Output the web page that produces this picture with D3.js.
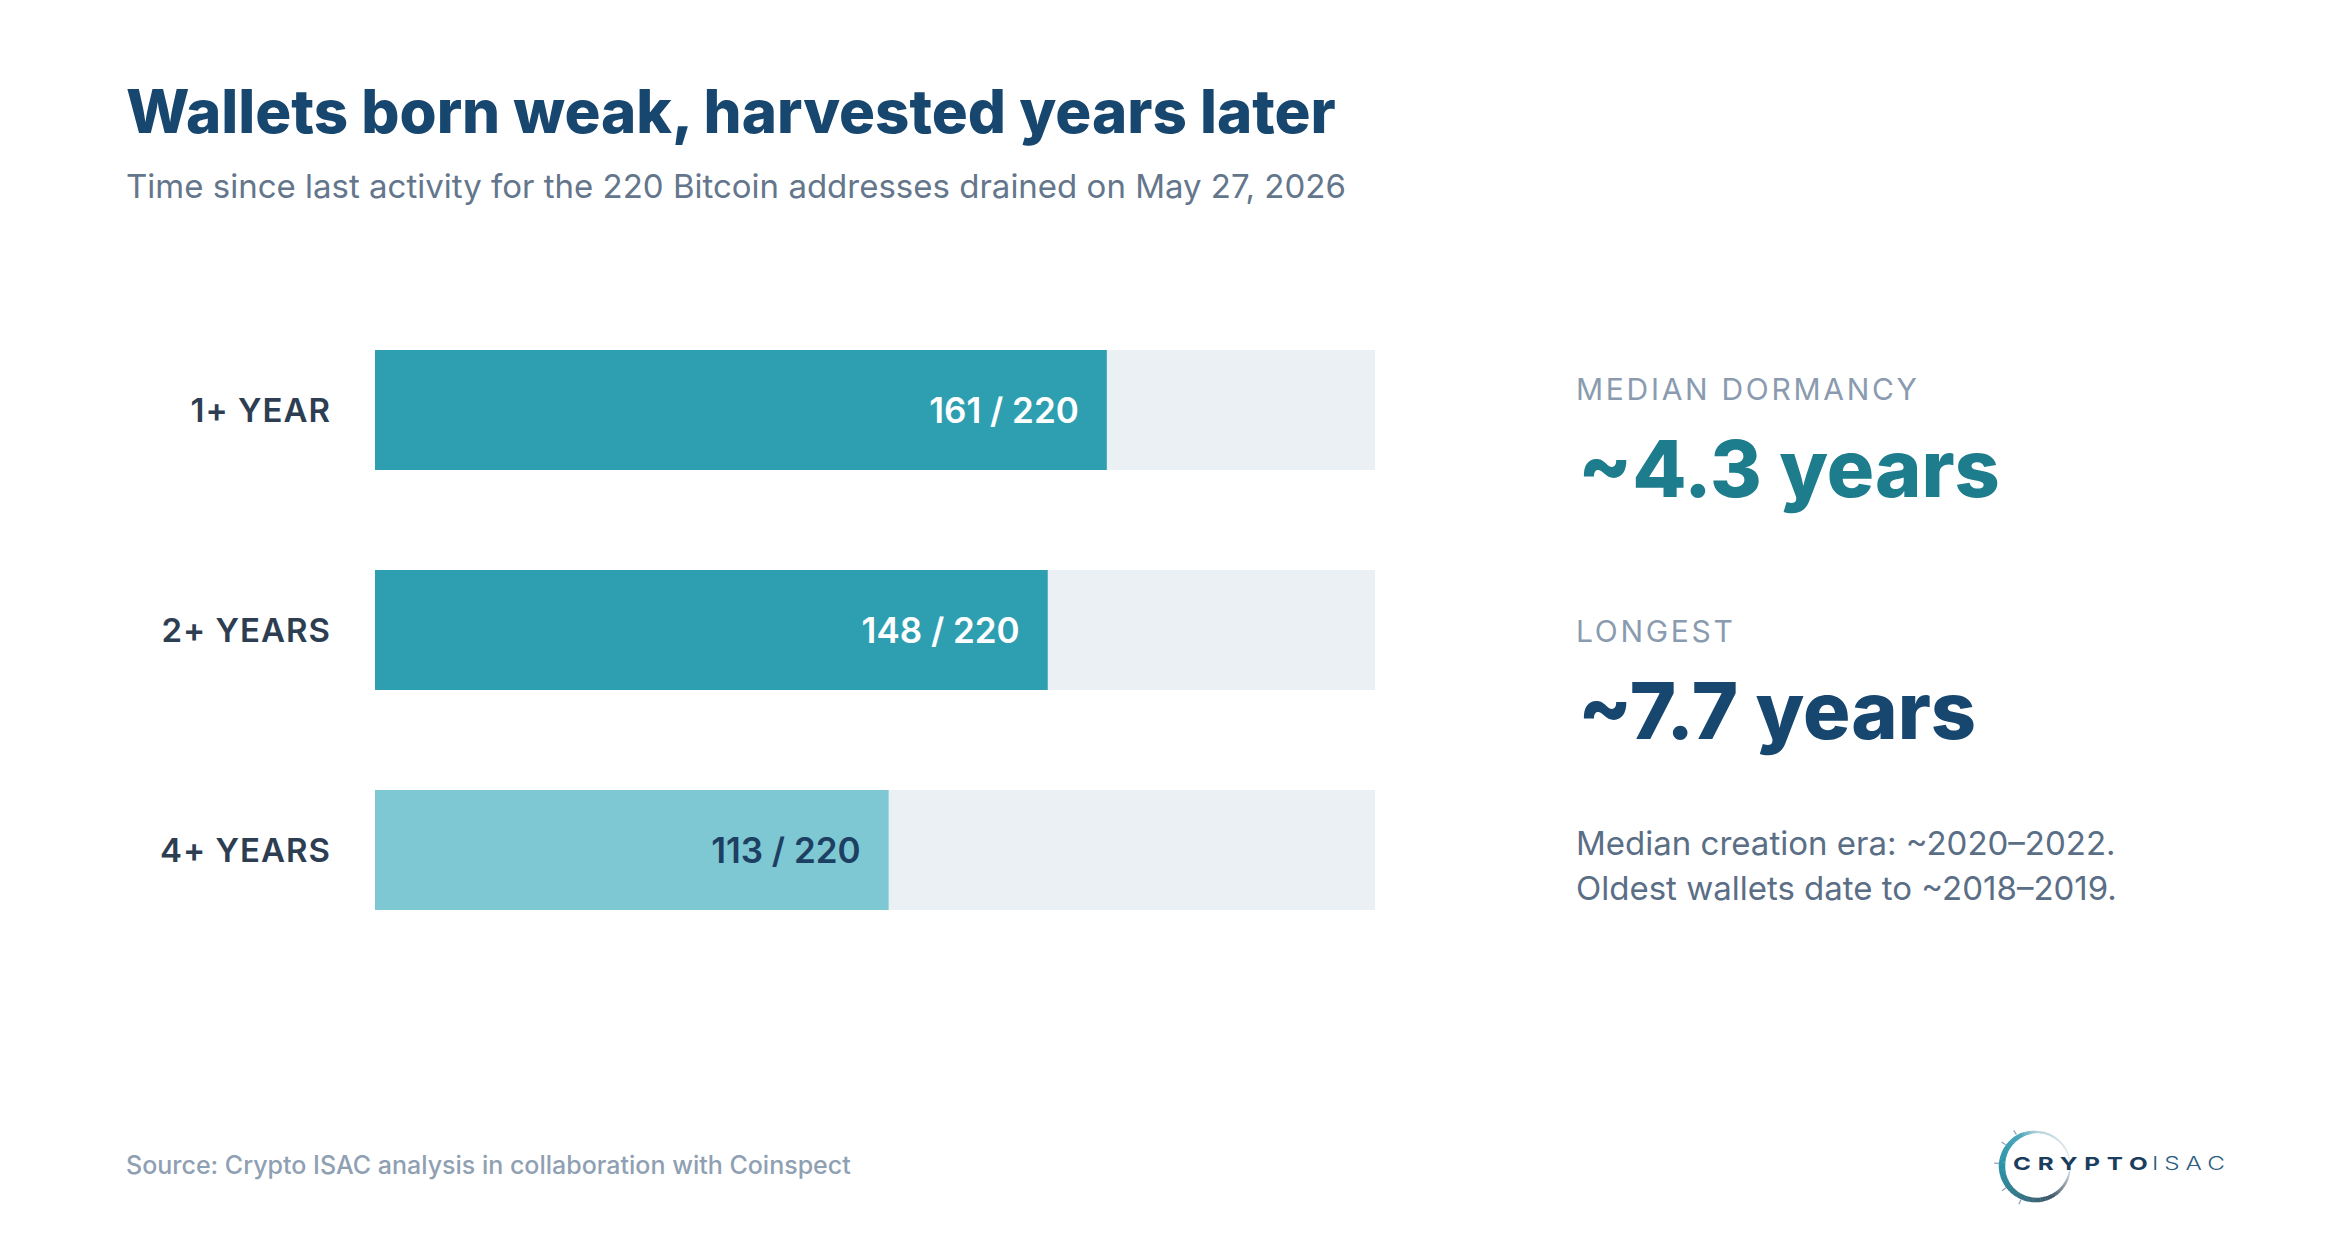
<!DOCTYPE html>
<html><head><meta charset="utf-8">
<script src="https://cdn.jsdelivr.net/npm/d3@7/dist/d3.min.js"></script>
<style>
html,body{margin:0;padding:0;background:#fff;}
svg{display:block;font-family:Inter,"Noto Sans",sans-serif;}
</style></head>
<body>
<svg id="chart" width="2350" height="1238"></svg>
<script>
// ---- data ----
const categories = ["1+ YEAR", "2+ YEARS", "4+ YEARS"];
const counts = [161, 148, 113];
const total = 220;
const statLabels = ["MEDIAN DORMANCY", "LONGEST"];
const statValues = ["~4.3 years", "~7.7 years"];
const notes = ["Median creation era: ~2020–2022.", "Oldest wallets date to ~2018–2019."];
const title = "Wallets born weak, harvested years later";
const subtitle = "Time since last activity for the 220 Bitcoin addresses drained on May 27, 2026";
const source = "Source: Crypto ISAC analysis in collaboration with Coinspect";

// ---- styles ----
const barColors = ["#2e9fb0", "#2e9fb0", "#7dc8d2"];
const valueColors = ["#ffffff", "#ffffff", "#1d3f61"];
const statColors = ["#1e7d8c", "#17466e"];

const svg = d3.select("#chart");

svg.append("text").attr("x", 126).attr("y", 133)
  .attr("font-size", 60).attr("font-weight", 800).attr("fill", "#17466e")
  .text(title);
svg.append("text").attr("x", 126).attr("y", 198)
  .attr("font-size", 33).attr("font-weight", 400).attr("fill", "#64768c")
  .text(subtitle);

const x = d3.scaleLinear().domain([0, total]).range([375, 1375]);
const y = d3.scaleBand().domain(categories).range([350, 910]).paddingInner(100/220).paddingOuter(0);

const rows = svg.append("g").selectAll("g").data(categories).join("g");
rows.append("rect").attr("x", x(0)).attr("y", d => y(d))
  .attr("width", x(total) - x(0)).attr("height", y.bandwidth()).attr("fill", "#eaf0f4");
rows.append("rect").attr("x", x(0)).attr("y", d => y(d))
  .attr("width", (d, i) => x(counts[i]) - x(0)).attr("height", y.bandwidth())
  .attr("fill", (d, i) => barColors[i]);
rows.append("text").attr("x", 331).attr("y", d => y(d) + y.bandwidth()/2 + 12)
  .attr("text-anchor", "end").attr("font-size", 33).attr("font-weight", 600)
  .attr("letter-spacing", "1px").attr("fill", "#2d3e52").text(d => d);
rows.append("text").attr("x", (d, i) => x(counts[i]) - 28)
  .attr("y", d => y(d) + y.bandwidth()/2 + 13)
  .attr("text-anchor", "end").attr("font-size", 35).attr("font-weight", 600)
  .attr("fill", (d, i) => valueColors[i]).text((d, i) => `${counts[i]} / ${total}`);

// ---- stats panel ----
const statTop = [400, 642];
statLabels.forEach((s, i) => {
  svg.append("text").attr("x", 1576).attr("y", statTop[i])
    .attr("font-size", 30).attr("font-weight", 400).attr("letter-spacing", "2.7px")
    .attr("fill", "#8a9bb0").text(s);
  svg.append("text").attr("x", 1578).attr("y", statTop[i] + 97)
    .attr("font-size", 79).attr("font-weight", 800).attr("fill", statColors[i])
    .text(statValues[i]);
});
notes.forEach((n, i) => {
  svg.append("text").attr("x", 1576).attr("y", 855 + i*45)
    .attr("font-size", 33).attr("font-weight", 400).attr("fill", "#5a6e86").text(n);
});

svg.append("text").attr("x", 126).attr("y", 1174)
  .attr("font-size", 25).attr("font-weight", 500).attr("fill", "#8fa0b3").text(source);

// ---- logo ----
const logo = svg.append("g").attr("transform", "translate(2036,1166)");
const P = Math.PI;
const ringColor = d3.scaleLinear()
  .domain([0, 0.5*P, 0.85*P, 1.5*P, 1.85*P, 2*P])
  .range(["#b3d0da", "#eef1f3", "#3f586a", "#2a93a8", "#4aa6b8", "#b3d0da"])
  .interpolate(d3.interpolateRgb);
const ringWidth = d3.scaleLinear()
  .domain([0, 0.5*P, 0.85*P, 1.5*P, 1.85*P, 2*P])
  .range([2.5, 1.2, 4, 6.5, 4.5, 2.5]);
const N = 90;
for (let k = 0; k < N; k++) {
  const a0 = (k / N) * 2 * P, a1 = ((k + 1.15) / N) * 2 * P;
  const am = (a0 + a1) / 2, w = ringWidth(am);
  logo.append("path")
    .attr("d", d3.arc()({innerRadius: 34 - w/2, outerRadius: 34 + w/2, startAngle: a0, endAngle: a1}))
    .attr("fill", ringColor(am));
}
[-122, -145, -176, 144, 114].forEach(deg => {
  const r = deg * P / 180;
  logo.append("line").attr("x1", Math.cos(r)*37).attr("y1", Math.sin(r)*37)
    .attr("x2", Math.cos(r)*42).attr("y2", Math.sin(r)*42)
    .attr("stroke", "#8ea2b2").attr("stroke-width", 1.2);
});
svg.append("g").attr("transform", "translate(2013,1170) scale(1.35,1)")
  .append("text").attr("font-size", 18).attr("font-weight", 700)
  .attr("letter-spacing", "5px").attr("fill", "#1b3d5e").text("CRYPTO");
svg.append("g").attr("transform", "translate(2152,1170) scale(1.35,1)")
  .append("text").attr("font-size", 18).attr("font-weight", 300)
  .attr("letter-spacing", "4.4px").attr("fill", "#2a5d80").text("ISAC");
</script>
</body></html>
